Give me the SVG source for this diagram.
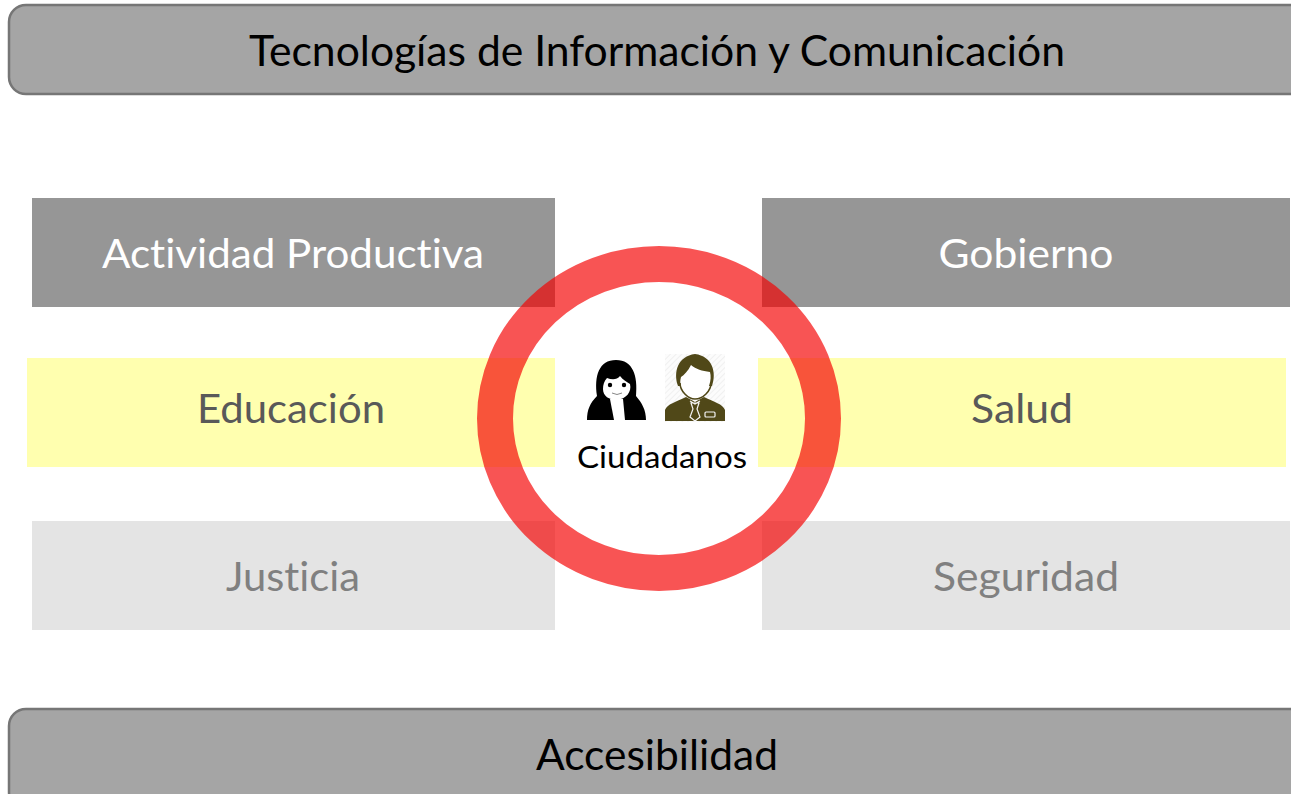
<svg xmlns="http://www.w3.org/2000/svg" width="1291" height="794" viewBox="0 0 1291 794">
<style>
text{font-family:"Lato","Open Sans","Liberation Sans",sans-serif;text-anchor:middle;font-variant-ligatures:none}
.bar{fill:#a5a5a5;stroke:#767676;stroke-width:2.5}
.bt{font-size:42px;fill:#000}
.dark{fill:#969696}.yel{fill:#ffffaf}.lite{fill:#e4e4e4}
.t{font-size:40px}
.w{fill:#fff}.g{fill:#595959}.l{fill:#808080}
.o{fill:#504818}
</style>
<defs>
<pattern id="hatch" width="4" height="4" patternUnits="userSpaceOnUse" patternTransform="rotate(-45)">
<rect width="4" height="4" fill="#fcfcfc"/><rect width="4" height="1" fill="#f0f0f0"/>
</pattern>
</defs>
<rect width="1291" height="794" fill="#fff"/>
<g id="node-tic"><rect class="bar" x="9" y="5" width="1300" height="89" rx="17"/><text class="bt" x="657" y="66" textLength="816" lengthAdjust="spacingAndGlyphs">Tecnologías de Información y Comunicación</text></g>
<g id="node-actividad"><rect class="dark" x="32" y="198" width="523" height="109"/><text class="t w" x="293" y="268" textLength="382" lengthAdjust="spacingAndGlyphs">Actividad Productiva</text></g>
<g id="node-gobierno"><rect class="dark" x="762" y="198" width="528" height="109"/><text class="t w" x="1026" y="268" textLength="175" lengthAdjust="spacingAndGlyphs">Gobierno</text></g>
<g id="node-educacion"><rect class="yel" x="27" y="358" width="528" height="109"/><text class="t g" x="291" y="423" textLength="188" lengthAdjust="spacingAndGlyphs">Educación</text></g>
<g id="node-salud"><rect class="yel" x="758" y="358" width="528" height="109"/><text class="t g" x="1022" y="423" textLength="102" lengthAdjust="spacingAndGlyphs">Salud</text></g>
<g id="node-justicia"><rect class="lite" x="32" y="521" width="523" height="109"/><text class="t l" x="293" y="591" textLength="134" lengthAdjust="spacingAndGlyphs">Justicia</text></g>
<g id="node-seguridad"><rect class="lite" x="762" y="521" width="528" height="109"/><text class="t l" x="1026" y="591" textLength="186" lengthAdjust="spacingAndGlyphs">Seguridad</text></g>
<g id="node-accesibilidad"><rect class="bar" x="9" y="709" width="1300" height="100" rx="17"/><text class="bt" x="657" y="770" textLength="242" lengthAdjust="spacingAndGlyphs">Accesibilidad</text></g>
<g id="node-anillo"><ellipse cx="659" cy="418.5" rx="164" ry="154.5" fill="none" stroke="#f40000" stroke-opacity=".67" stroke-width="36"/></g>
<g id="node-ciudadanos">
<g id="icon-woman">
<path fill="#000" d="M587 420 C587 410 590 403 597 396 C594 376 599 360 616 360 C633 360 638 376 636 396 C642 403 646 410 646 420Z"/>
<path fill="#fff" d="M603 389 C603 385 604 381 607 378 C612 380 617 380 620 376 C623 380 627 382 630 384 C632 392 626 399 617 400 C609 400 603 396 603 389Z"/>
<path fill="#fff" d="M610 399 H623 L625 420 H614Z"/>
<circle cx="610" cy="385" r="2.2" fill="#000"/><circle cx="624" cy="385" r="2.2" fill="#000"/>
<path d="M612 393 Q617 396 622 393" fill="none" stroke="#888" stroke-width="1"/>
</g>
<g id="icon-man">
<rect x="665" y="354" width="60" height="68" fill="url(#hatch)"/>
<path class="o" d="M665 421 V410 C667 404 676 402 686 397 L695 402 L704 397 C714 402 723 404 725 410 V421Z"/>
<path fill="#fff" d="M680 380 C680 392 688 399 695 399 C703 399 711 392 711 380 C711 370 705 362 695 362 C686 362 680 370 680 380Z"/>
<path class="o" d="M678 386 C673 372 678 356 695 354 C712 356 717 372 712 386 L709 386 C711 380 711 376 710 372 C702 371 696 369 691 365 C688 371 684 375 681 377 C680 381 680 383 681 386Z"/>
<path fill="none" stroke="#504818" stroke-width="1.6" d="M680 383 C680 391 688 399 695 399 C703 399 711 391 711 383"/>
<path fill="none" stroke="#f4f4f4" stroke-width="1.2" d="M690 401 L695 404 L700 401 M691 403 H699 L697 409 L700 417 L695 421 L690 417 L693 409Z"/>
<rect x="705" y="412" width="10" height="5" rx="1" fill="#504818" stroke="#f4f4f4" stroke-width="1.2"/>
</g>
<text x="662" y="468" font-size="31" fill="#000" textLength="170" lengthAdjust="spacingAndGlyphs">Ciudadanos</text>
</g>
<g id="connectors"/>
</svg>
